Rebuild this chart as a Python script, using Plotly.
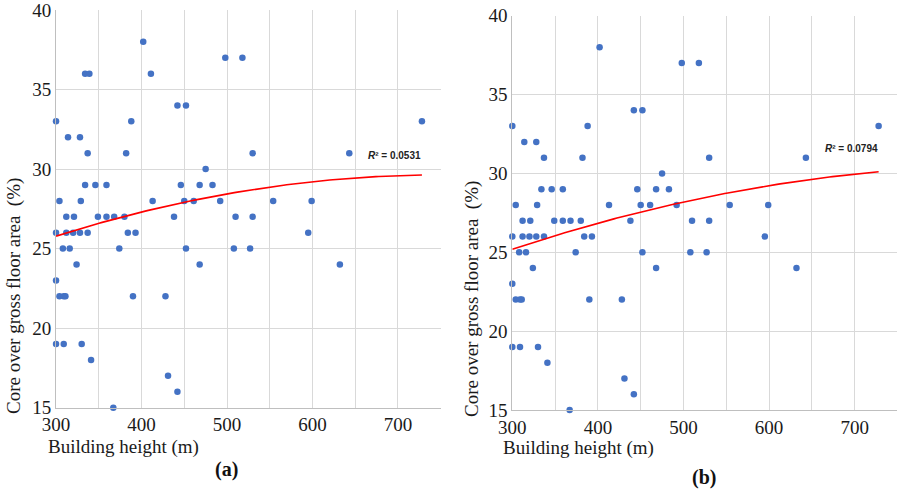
import numpy as np
import plotly.graph_objects as go

# ---- data (building height m, core / GFA %) ----
height_a = [300, 388, 728, 402, 498, 518, 334, 339, 411, 442, 452, 314, 328,
            337, 382, 530, 643, 475, 334, 346, 359, 446, 468, 483,
            304, 329, 413, 450, 461, 492, 554, 599,
            312, 321, 349, 359, 368, 380, 438, 510, 530,
            300, 312, 320, 328, 337, 384, 393, 595,
            308, 316, 374, 452, 508, 527,
            324, 468, 632, 300, 304, 309, 311, 390, 428,
            300, 309, 330, 341, 431, 442, 367]
core_a = [33, 33, 33, 38, 37, 37, 36, 36, 36, 34, 34, 32, 32,
          31, 31, 31, 31, 30, 29, 29, 29, 29, 29, 29,
          28, 28, 28, 28, 28, 28, 28, 28,
          27, 27, 27, 27, 27, 27, 27, 27, 27,
          26, 26, 26, 26, 26, 26, 26, 26,
          25, 25, 25, 25, 25, 25,
          24, 24, 24, 23, 22, 22, 22, 22, 22,
          19, 19, 19, 18, 17, 16, 15]

height_b = [300, 388, 728, 402, 498, 518, 442, 452, 314, 328,
            337, 382, 530, 643, 475, 334, 346, 359, 446, 468, 483,
            304, 329, 413, 450, 461, 492, 554, 599,
            312, 321, 349, 359, 368, 380, 438, 510, 530,
            300, 312, 320, 328, 337, 384, 393, 595,
            308, 316, 374, 452, 508, 527,
            324, 468, 632, 300, 304, 309, 311, 390, 428,
            300, 309, 330, 341, 431, 442, 367]
core_b = [33, 33, 33, 38, 37, 37, 34, 34, 32, 32,
          31, 31, 31, 31, 30, 29, 29, 29, 29, 29, 29,
          28, 28, 28, 28, 28, 28, 28, 28,
          27, 27, 27, 27, 27, 27, 27, 27, 27,
          26, 26, 26, 26, 26, 26, 26, 26,
          25, 25, 25, 25, 25, 25,
          24, 24, 24, 23, 22, 22, 22, 22, 22,
          19, 19, 19, 18, 17, 16, 15]

r2_labels = ["0.0531", "0.0794"]
panel_labels = ["(a)", "(b)"]
x_ticks = [300, 400, 500, 600, 700]
y_ticks = [15, 20, 25, 30, 35, 40]

BLUE = "#4472C4"
RED = "#FF0000"
GRID = "#D9D9D9"
SERIF = "Liberation Serif"

fig = go.Figure()

panels = [
    dict(x=height_a, y=core_a, xa="x", ya="y", xd=[0.0624, 0.4908], yd=[0.1697, 0.9796]),
    dict(x=height_b, y=core_b, xa="x2", ya="y2", xd=[0.5705, 0.9994], yd=[0.1650, 0.9680]),
]

for p in panels:
    fig.add_trace(go.Scatter(
        x=p["x"], y=p["y"], mode="markers", xaxis=p["xa"], yaxis=p["ya"],
        marker=dict(color=BLUE, size=6.5, line=dict(width=0)), showlegend=False,
        cliponaxis=False, hoverinfo="skip"))
    coef = np.polyfit(np.array(p["x"], float), np.array(p["y"], float), 2)
    xs = np.linspace(min(p["x"]), max(p["x"]), 120)
    fig.add_trace(go.Scatter(
        x=xs, y=np.polyval(coef, xs), mode="lines", xaxis=p["xa"], yaxis=p["ya"],
        line=dict(color=RED, width=1.6), showlegend=False, hoverinfo="skip"))

grid_vals = list(range(300, 751, 50))
grid_text = [str(v) if v in x_ticks else "" for v in grid_vals]

axis_common_x = dict(range=[300, 750], tickvals=grid_vals, ticktext=grid_text,
                     showgrid=True, gridcolor=GRID, automargin=False,
                     ticklabeloverflow="allow",
                     gridwidth=1, zeroline=False, showline=True, linecolor="#BFBFBF",
                     linewidth=1, ticks="", tickfont=dict(family=SERIF, size=19, color="#1a1a1a"),
                     fixedrange=True)
axis_common_y = dict(range=[15, 40], tickvals=y_ticks, showgrid=True, gridcolor=GRID,
                     automargin=False, ticklabeloverflow="allow",
                     gridwidth=1, zeroline=False, showline=True, linecolor="#BFBFBF",
                     linewidth=1, ticks="", tickfont=dict(family=SERIF, size=19, color="#1a1a1a"),
                     fixedrange=True)

fig.update_layout(
    width=898, height=491,
    margin=dict(l=0, r=0, t=0, b=0),
    paper_bgcolor="white", plot_bgcolor="white",
    font=dict(family=SERIF),
    xaxis=dict(axis_common_x, domain=panels[0]["xd"], anchor="y"),
    yaxis=dict(axis_common_y, domain=panels[0]["yd"], anchor="x"),
    xaxis2=dict(axis_common_x, domain=panels[1]["xd"], anchor="y2"),
    yaxis2=dict(axis_common_y, domain=panels[1]["yd"], anchor="x2"),
)

annotations = []
# axis titles
for xc, yc in [(123, 447), (578, 448)]:
    annotations.append(dict(text="Building height (m)", x=xc / 898, y=1 - yc / 491,
                            xref="paper", yref="paper", showarrow=False,
                            font=dict(family=SERIF, size=19, color="#1a1a1a"),
                            xanchor="center", yanchor="middle"))
for xc, yc in [(14, 296), (472, 299)]:
    annotations.append(dict(text="Core over gross floor area  (%)", x=xc / 898, y=1 - yc / 491,
                            xref="paper", yref="paper", showarrow=False, textangle=-90,
                            font=dict(family=SERIF, size=19, color="#1a1a1a"),
                            xanchor="center", yanchor="middle"))
# R squared labels
for (xc, yc), r2 in zip([(394, 155), (851, 148)], r2_labels):
    annotations.append(dict(text="<b><i>R</i>² = " + r2 + "</b>", x=xc / 898, y=1 - yc / 491,
                            xref="paper", yref="paper", showarrow=False,
                            font=dict(family="Liberation Sans", size=10, color="#222"),
                            xanchor="center", yanchor="middle"))
# panel labels
for (xc, yc), lab in zip([(226, 469), (704, 477)], panel_labels):
    annotations.append(dict(text="<b>" + lab + "</b>", x=xc / 898, y=1 - yc / 491,
                            xref="paper", yref="paper", showarrow=False,
                            font=dict(family=SERIF, size=20, color="#111"),
                            xanchor="center", yanchor="middle"))

fig.update_layout(annotations=annotations)
fig.write_html("out.html", config={"displayModeBar": False},
               post_script="document.body.style.margin='0';document.body.style.overflow='hidden';")
